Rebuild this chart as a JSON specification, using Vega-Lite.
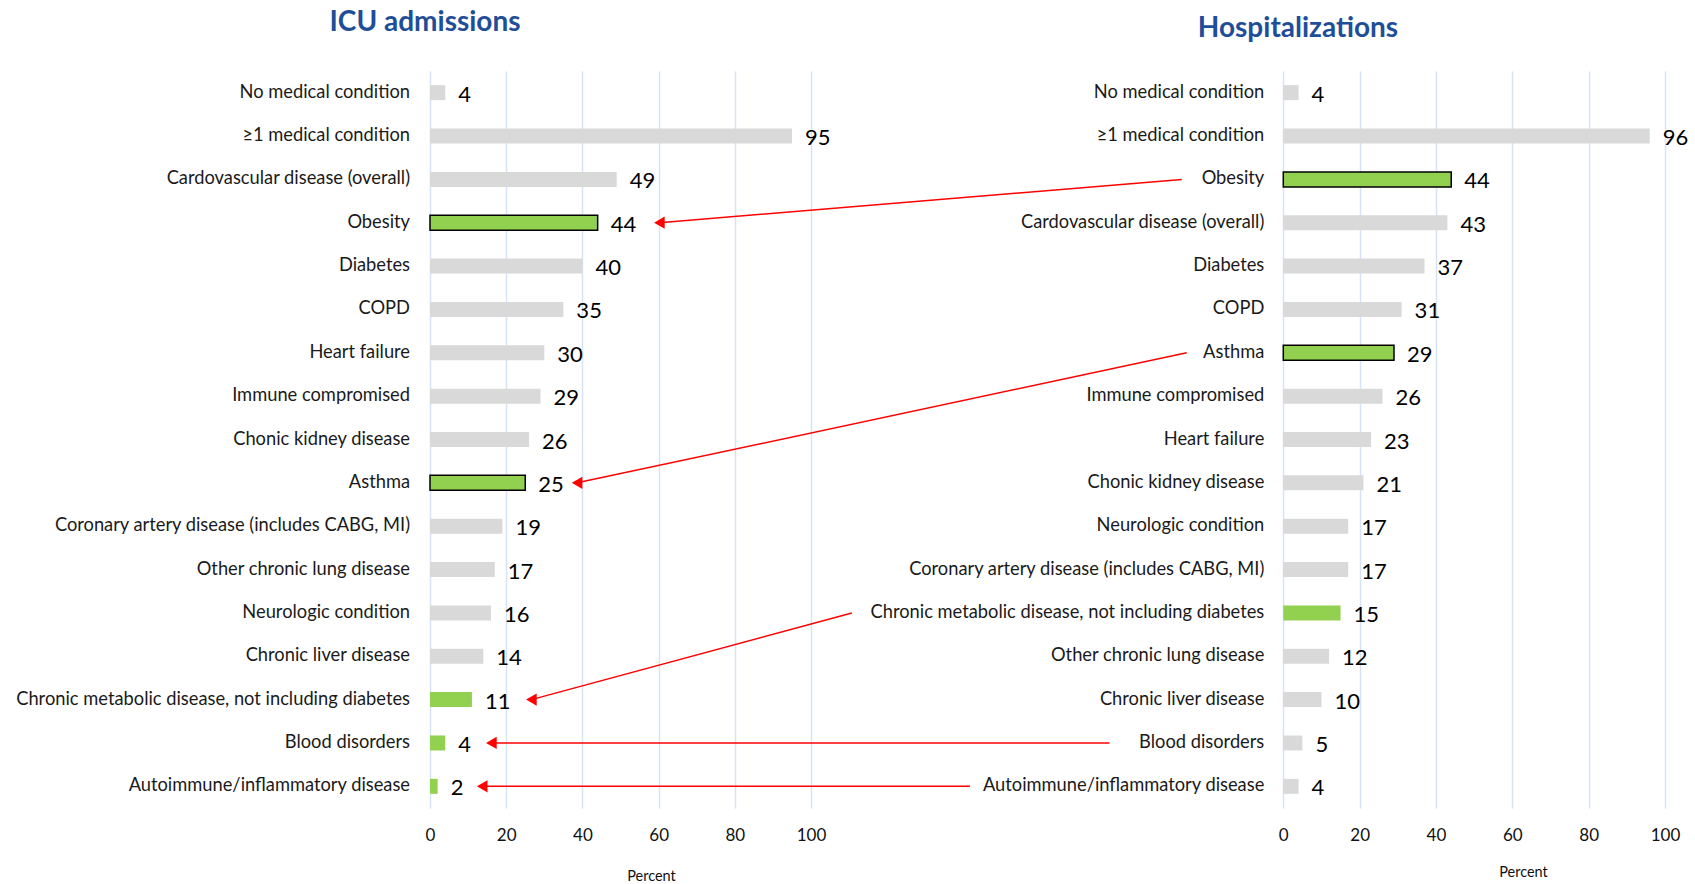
{
  "$schema": "https://vega.github.io/schema/vega-lite/v6.json",
  "width": 1695,
  "height": 737,
  "autosize": {"type": "none"},
  "padding": {"left": 0, "top": 71, "right": 0, "bottom": 76},
  "background": "white",
  "config": {"view": {"stroke": null}, "text": {"font": "Lato"}},
  "datasets": {
    "icu": [
      {"rank": 1, "label": "No medical condition", "value": 4, "hl": "none"},
      {"rank": 2, "label": "≥1 medical condition", "value": 95, "hl": "none"},
      {"rank": 3, "label": "Cardovascular disease (overall)", "value": 49, "hl": "none"},
      {"rank": 4, "label": "Obesity", "value": 44, "hl": "key"},
      {"rank": 5, "label": "Diabetes", "value": 40, "hl": "none"},
      {"rank": 6, "label": "COPD", "value": 35, "hl": "none"},
      {"rank": 7, "label": "Heart failure", "value": 30, "hl": "none"},
      {"rank": 8, "label": "Immune compromised", "value": 29, "hl": "none"},
      {"rank": 9, "label": "Chonic kidney disease", "value": 26, "hl": "none"},
      {"rank": 10, "label": "Asthma", "value": 25, "hl": "key"},
      {"rank": 11, "label": "Coronary artery disease (includes CABG, MI)", "value": 19, "hl": "none"},
      {"rank": 12, "label": "Other chronic lung disease", "value": 17, "hl": "none"},
      {"rank": 13, "label": "Neurologic condition", "value": 16, "hl": "none"},
      {"rank": 14, "label": "Chronic liver disease", "value": 14, "hl": "none"},
      {"rank": 15, "label": "Chronic metabolic disease, not including diabetes", "value": 11, "hl": "green"},
      {"rank": 16, "label": "Blood disorders", "value": 4, "hl": "green"},
      {"rank": 17, "label": "Autoimmune/inflammatory disease", "value": 2, "hl": "green"}
    ],
    "hosp": [
      {"rank": 1, "label": "No medical condition", "value": 4, "hl": "none"},
      {"rank": 2, "label": "≥1 medical condition", "value": 96, "hl": "none"},
      {"rank": 3, "label": "Obesity", "value": 44, "hl": "key"},
      {"rank": 4, "label": "Cardovascular disease (overall)", "value": 43, "hl": "none"},
      {"rank": 5, "label": "Diabetes", "value": 37, "hl": "none"},
      {"rank": 6, "label": "COPD", "value": 31, "hl": "none"},
      {"rank": 7, "label": "Asthma", "value": 29, "hl": "key"},
      {"rank": 8, "label": "Immune compromised", "value": 26, "hl": "none"},
      {"rank": 9, "label": "Heart failure", "value": 23, "hl": "none"},
      {"rank": 10, "label": "Chonic kidney disease", "value": 21, "hl": "none"},
      {"rank": 11, "label": "Neurologic condition", "value": 17, "hl": "none"},
      {"rank": 12, "label": "Coronary artery disease (includes CABG, MI)", "value": 17, "hl": "none"},
      {"rank": 13, "label": "Chronic metabolic disease, not including diabetes", "value": 15, "hl": "green"},
      {"rank": 14, "label": "Other chronic lung disease", "value": 12, "hl": "none"},
      {"rank": 15, "label": "Chronic liver disease", "value": 10, "hl": "none"},
      {"rank": 16, "label": "Blood disorders", "value": 5, "hl": "none"},
      {"rank": 17, "label": "Autoimmune/inflammatory disease", "value": 4, "hl": "none"}
    ],
    "arrows": [
      {"condition": "Obesity", "from_rank": 3, "to_rank": 4, "x_start": 197.3, "x_end": 60.2},
      {"condition": "Asthma", "from_rank": 7, "to_rank": 10, "x_start": 198.6, "x_end": 38.6},
      {"condition": "Chronic metabolic disease", "from_rank": 13, "to_rank": 15, "x_start": 110.7, "x_end": 26.6},
      {"condition": "Blood disorders", "from_rank": 16, "to_rank": 16, "x_start": 178.3, "x_end": 16.1},
      {"condition": "Autoimmune/inflammatory disease", "from_rank": 17, "to_rank": 17, "x_start": 141.7, "x_end": 13.7}
    ]
  },
  "layer": [
    {
      "data": {"name": "icu"},
      "layer": [
        {
          "mark": {"type": "bar", "orient": "horizontal", "height": 15, "stroke": "#000000"},
          "encoding": {
            "x": {
              "field": "value", "type": "quantitative", "stack": null,
              "scale": {"domain": [-112.86, 332.0], "nice": false, "zero": false, "padding": 0},
              "axis": {
                "orient": "bottom", "values": [0, 20, 40, 60, 80, 100],
                "grid": true, "gridColor": "#d6e2f5", "gridWidth": 1.5,
                "domain": false, "ticks": false, "tickSize": 0,
                "labelFont": "Lato", "labelFontSize": 17, "labelColor": "#111111", "labelPadding": 19,
                "title": "Percent", "titleFont": "Lato", "titleFontSize": 14.5, "titleFontWeight": "normal",
                "titleColor": "#111111", "titleX": 651, "titleY": 68, "titleBaseline": "middle", "titleAlign": "center"
              }
            },
            "x2": {"datum": 0},
            "y": {"field": "rank", "type": "quantitative", "scale": {"domain": [0.5, 17.5], "reverse": true, "nice": false, "zero": false, "padding": 0}, "axis": null},
            "fill": {"condition": {"test": "datum.hl != 'none'", "value": "#92d050"}, "value": "#d9d9d9"},
            "strokeWidth": {"condition": {"test": "datum.hl == 'key'", "value": 1.5}, "value": 0}
          }
        },
        {
          "mark": {"type": "text", "align": "left", "baseline": "middle", "dx": 13, "dy": 2, "fontSize": 22, "color": "#000000"},
          "encoding": {
            "x": {"field": "value", "type": "quantitative"},
            "y": {"field": "rank", "type": "quantitative", "axis": null},
            "text": {"field": "value", "type": "quantitative"}
          }
        },
        {
          "mark": {"type": "text", "align": "right", "baseline": "middle", "dx": -20, "fontSize": 18.3, "color": "#1a1a1a"},
          "encoding": {
            "x": {"datum": 0, "type": "quantitative"},
            "y": {"field": "rank", "type": "quantitative", "axis": null},
            "text": {"field": "label", "type": "nominal"}
          }
        },
        {
          "data": {"values": [{"title": "ICU admissions"}]},
          "mark": {"type": "text", "align": "center", "baseline": "middle", "fontSize": 28, "fontWeight": "bold", "color": "#1f4e99"},
          "encoding": {
            "x": {"datum": -1.3, "type": "quantitative"},
            "y": {"datum": -0.61, "type": "quantitative", "axis": null},
            "text": {"field": "title", "type": "nominal"}
          }
        },
        {
          "data": {"name": "arrows"},
          "mark": {"type": "rule", "color": "#ff0000", "strokeWidth": 1.5},
          "encoding": {
            "x": {"field": "x_start", "type": "quantitative"},
            "x2": {"field": "x_end"},
            "y": {"field": "from_rank", "type": "quantitative", "axis": null},
            "y2": {"field": "to_rank"}
          }
        },
        {
          "data": {"name": "arrows"},
          "mark": {"type": "point", "shape": "triangle-left", "filled": true, "size": 150, "color": "#ff0000", "opacity": 1},
          "encoding": {
            "x": {"field": "x_end", "type": "quantitative"},
            "y": {"field": "to_rank", "type": "quantitative", "axis": null}
          }
        }
      ]
    },
    {
      "data": {"name": "hosp"},
      "layer": [
        {
          "mark": {"type": "bar", "orient": "horizontal", "height": 15, "stroke": "#000000"},
          "encoding": {
            "x": {
              "field": "value", "type": "quantitative", "stack": null,
              "scale": {"domain": [-336.2, 107.86], "nice": false, "zero": false, "padding": 0},
              "axis": {
                "orient": "bottom", "values": [0, 20, 40, 60, 80, 100],
                "grid": true, "gridColor": "#d6e2f5", "gridWidth": 1.5,
                "domain": false, "ticks": false, "tickSize": 0,
                "labelFont": "Lato", "labelFontSize": 17, "labelColor": "#111111", "labelPadding": 19,
                "title": "Percent", "titleFont": "Lato", "titleFontSize": 14.5, "titleFontWeight": "normal",
                "titleColor": "#111111", "titleX": 1523, "titleY": 64, "titleBaseline": "middle", "titleAlign": "center"
              }
            },
            "x2": {"datum": 0},
            "y": {"field": "rank", "type": "quantitative", "axis": null},
            "fill": {"condition": {"test": "datum.hl != 'none'", "value": "#92d050"}, "value": "#d9d9d9"},
            "strokeWidth": {"condition": {"test": "datum.hl == 'key'", "value": 1.5}, "value": 0}
          }
        },
        {
          "mark": {"type": "text", "align": "left", "baseline": "middle", "dx": 13, "dy": 2, "fontSize": 22, "color": "#000000"},
          "encoding": {
            "x": {"field": "value", "type": "quantitative"},
            "y": {"field": "rank", "type": "quantitative", "axis": null},
            "text": {"field": "value", "type": "quantitative"}
          }
        },
        {
          "mark": {"type": "text", "align": "right", "baseline": "middle", "dx": -19, "fontSize": 18.3, "color": "#1a1a1a"},
          "encoding": {
            "x": {"datum": 0, "type": "quantitative"},
            "y": {"field": "rank", "type": "quantitative", "axis": null},
            "text": {"field": "label", "type": "nominal"}
          }
        },
        {
          "data": {"values": [{"title": "Hospitalizations"}]},
          "mark": {"type": "text", "align": "center", "baseline": "middle", "fontSize": 28, "fontWeight": "bold", "color": "#1f4e99"},
          "encoding": {
            "x": {"datum": 3.85, "type": "quantitative"},
            "y": {"datum": -0.465, "type": "quantitative", "axis": null},
            "text": {"field": "title", "type": "nominal"}
          }
        }
      ]
    }
  ],
  "resolve": {"scale": {"x": "independent"}, "axis": {"x": "independent"}}
}
